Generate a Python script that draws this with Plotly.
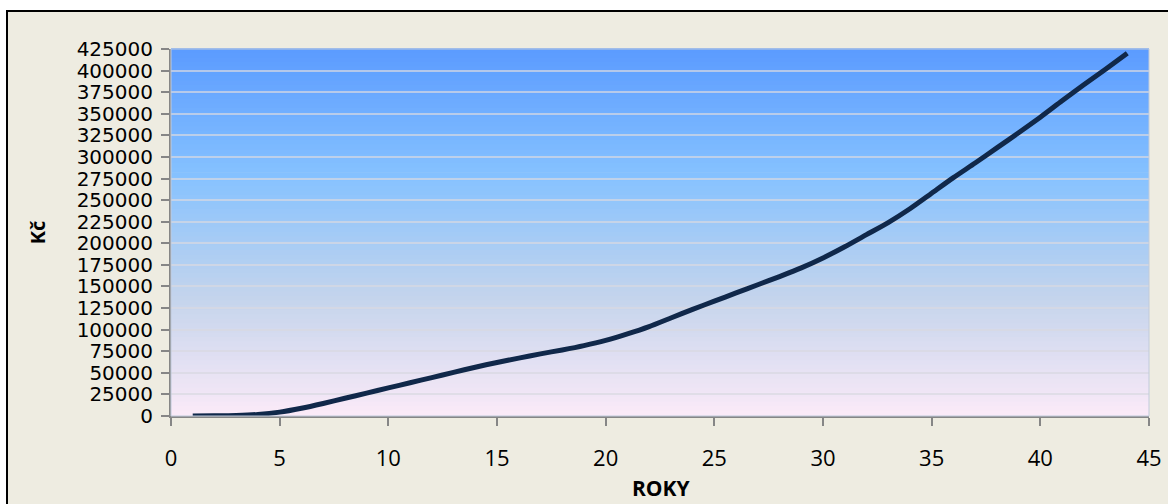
import plotly.graph_objects as go

years = list(range(1, 45))
values = [0, 200, 600, 1800, 4500, 9000, 14500, 20500, 26500, 32500,
          38500, 44500, 50500, 56500, 62000, 67000, 72000, 76500, 81500, 87500,
          95000, 103500, 113500, 123500, 133000, 142500, 152000, 161500, 171500, 183000,
          196000, 210000, 224000, 240000, 258000, 276000, 293000, 310500, 328000, 346000,
          365000, 383500, 401500, 420000]

x_title = "ROKY"
y_title = "Kč"

W, H = 1168, 504
L, R, T, B = 171, 19, 49, 88
pw, ph = W - L - R, H - T - B

def fx(px):
    return (px - L) / pw

def fy(py):
    return (H - B - py) / ph

# gradient stops (top -> bottom)
stops = [(0.0, (91, 155, 255)), (0.35, (134, 194, 255)), (0.68, (196, 212, 236)), (1.0, (251, 234, 248))]

def col(t):
    for i in range(len(stops) - 1):
        a, ca = stops[i]
        b, cb = stops[i + 1]
        if a <= t <= b:
            u = (t - a) / (b - a)
            c = [round(ca[k] + (cb[k] - ca[k]) * u) for k in range(3)]
            return "rgb(%d,%d,%d)" % tuple(c)
    return "rgb(%d,%d,%d)" % stops[-1][1]

shapes = [dict(type="rect", xref="paper", yref="paper",
               x0=fx(7), x1=fx(1200), y0=fy(560), y1=fy(11),
               fillcolor="#EEECE1", line=dict(color="black", width=2), layer="below")]
N = 80
for i in range(N):
    t0 = i / N
    t1 = (i + 1) / N
    shapes.append(dict(type="rect", xref="paper", yref="paper",
                       x0=0, x1=1, y0=1 - t1, y1=1 - t0 + 0.002,
                       fillcolor=col((t0 + t1) / 2), line=dict(width=0), layer="below"))
shapes.append(dict(type="rect", xref="paper", yref="paper", x0=0, x1=1, y0=0, y1=1,
                   fillcolor="rgba(0,0,0,0)", line=dict(color="#C0CADB", width=1), layer="above"))

fig = go.Figure()
fig.add_trace(go.Scatter(x=years, y=values, mode="lines",
                         line=dict(color="#10284A", width=5, shape="spline", smoothing=0.6),
                         showlegend=False, hoverinfo="skip"))

tick_font = "DejaVu Sans"
xfont = "Open Sans"
fig.update_layout(
    width=W, height=H,
    margin=dict(l=L, r=R, t=T, b=B, autoexpand=False),
    paper_bgcolor="white",
    plot_bgcolor="rgba(0,0,0,0)",
    shapes=shapes,
    font=dict(family=tick_font, color="black"),
    xaxis=dict(range=[0, 45], dtick=5, tick0=0, showgrid=False, zeroline=False,
               showline=True, linecolor="#868686", linewidth=2, automargin=False,
               ticks="outside", ticklen=8, tickcolor="#868686", tickwidth=2,
               tickfont=dict(size=22, family=xfont), ticklabelstandoff=14),
    yaxis=dict(range=[0, 425000], dtick=25000, tick0=0, tickformat="d",
               showgrid=True, gridcolor="rgba(217,217,225,0.7)", gridwidth=2, zeroline=False,
               showline=True, linecolor="#868686", linewidth=2, automargin=False,
               ticks="outside", ticklen=8, tickcolor="#868686", tickwidth=2,
               tickfont=dict(size=20, family=tick_font), ticklabelstandoff=4,
               title=dict(text="<b>" + y_title + "</b>", font=dict(size=20, family=xfont), standoff=26)),
    annotations=[dict(text="<b>" + x_title + "</b>", xref="paper", yref="paper",
                      x=fx(661), y=fy(488), xanchor="center", yanchor="middle",
                      showarrow=False, font=dict(size=21, family=xfont, color="black"))],
)

fig.write_html("out.html", config={"displayModeBar": False},
               post_script="document.body.style.margin='0';document.body.style.overflow='hidden';")
